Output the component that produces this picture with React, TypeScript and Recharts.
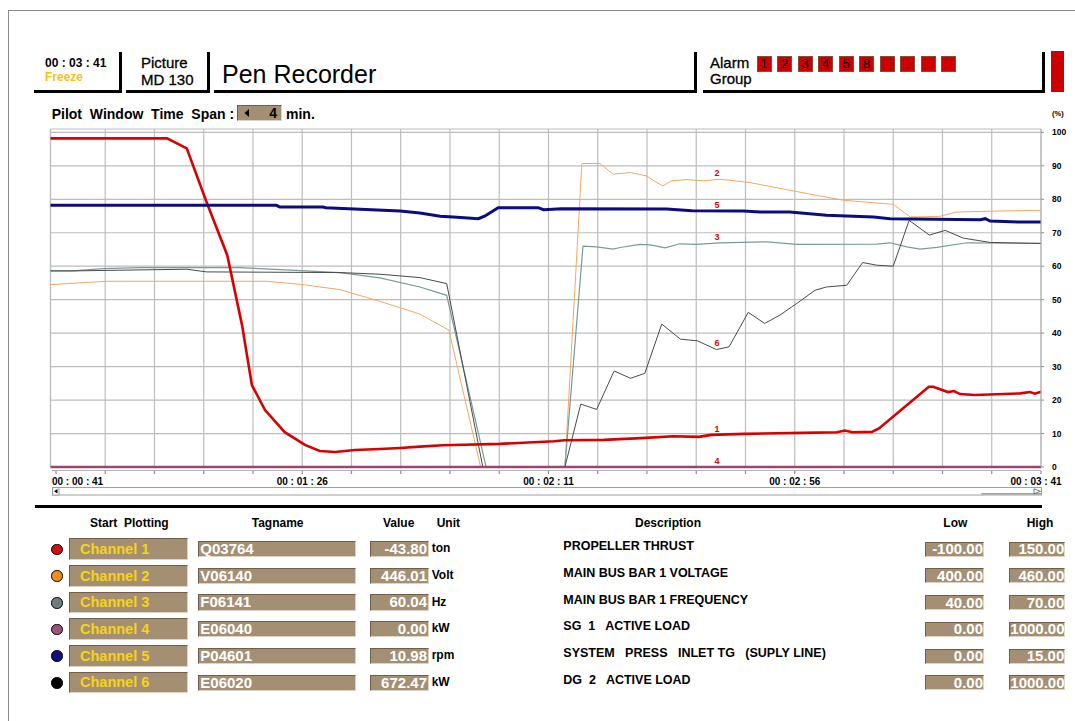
import React from 'react';
import {
  LineChart,
  Line,
  XAxis,
  YAxis,
  CartesianGrid,
  ReferenceLine,
  ReferenceDot,
} from 'recharts';

const FONT = '"Liberation Sans", Arial, Helvetica, sans-serif';

// time axis in clock seconds (00:00:41 .. 00:03:41), one division = 9 s
const TIME_TICKS = [41, 50, 59, 68, 77, 86, 95, 104, 113, 122, 131, 140, 149, 158, 167, 176, 185, 194, 203, 212, 221];
const GRID_T = [40, 50, 59, 68, 77, 86, 95, 104, 113, 122, 131, 140, 149, 158, 167, 176, 185, 194, 203, 212, 221];
const PCT_TICKS = [0, 10, 20, 30, 40, 50, 60, 70, 80, 90, 100];

// pen traces, percent of range
const CH1_T = [40, 61.3, 64.9, 68.6, 72.3, 75.0, 76.8, 79.2, 82.8, 86.5, 89.2, 92.0, 95.6, 100.2, 103.9, 107.5, 111.7, 122.1, 132.0, 134.0, 141.1, 148.8, 153.8, 158.5, 160.7, 166.9, 177.5, 183.7, 185.2, 186.5, 190.1, 191.4, 200.5, 201.3, 204.0, 205.1, 206.2, 208.9, 217.2, 219.0, 219.9, 221];
const CH1_V = [98.2, 98.2, 95.2, 78.8, 63.3, 42.4, 24.5, 17.0, 10.4, 6.6, 4.8, 4.5, 5.1, 5.4, 5.7, 6.1, 6.5, 6.9, 7.7, 8.0, 8.1, 8.7, 9.2, 9.0, 9.6, 9.9, 10.2, 10.4, 10.9, 10.4, 10.5, 11.5, 24.0, 24.0, 22.4, 22.7, 21.8, 21.5, 22.0, 22.4, 21.9, 22.5];

const CH2_T = [40, 50.3, 79.6, 86.1, 92.9, 100.2, 107.5, 112.8, 118.6, 134.0, 137.1, 140.4, 142.8, 145.9, 148.9, 150.8, 151.9, 153.5, 156.3, 159.3, 162.3, 167.8, 175.7, 184.9, 194.0, 197.1, 202.5, 205.6, 213.5, 221];
const CH2_V = [54.5, 55.5, 55.5, 54.5, 53.0, 49.5, 45.7, 40.9, 0, 0, 90.7, 90.7, 87.5, 88.0, 87.0, 85.0, 84.0, 85.5, 85.9, 85.5, 86.0, 85.0, 82.5, 79.7, 78.5, 74.7, 74.9, 76.2, 76.5, 76.7];

const CH3_T = [40, 44.1, 49.6, 56.4, 74.6, 83.8, 92.9, 100.2, 107.5, 112.4, 119.6, 134.0, 137.3, 139.8, 142.8, 144.1, 147.7, 149.6, 152.3, 155.0, 158.1, 162.3, 170.9, 176.4, 191.0, 193.4, 196.5, 198.9, 202.0, 207.4, 221];
const CH3_V = [58.6, 58.6, 59.3, 59.6, 59.6, 58.8, 58.1, 56.5, 53.8, 51.3, 0, 0, 66.0, 65.8, 65.1, 65.6, 66.5, 66.4, 65.5, 66.7, 66.5, 67.0, 67.3, 66.5, 66.6, 67.0, 65.8, 65.1, 65.6, 67.0, 66.8];

const CH4_T = [40, 221];
const CH4_V = [0, 0];

const CH5_T = [40, 81.3, 81.9, 89.8, 90.3, 103.9, 107.5, 111.2, 113.6, 118.2, 119.4, 121.8, 129.1, 130.1, 133.4, 152.6, 157.2, 166.6, 169.7, 175.1, 181.8, 190.4, 193.4, 209.9, 210.8, 211.7, 217.2, 221];
const CH5_V = [78.2, 78.2, 77.7, 77.7, 77.5, 76.5, 75.9, 74.9, 74.7, 74.2, 75.0, 77.5, 77.5, 76.9, 77.2, 77.1, 76.6, 76.5, 76.2, 76.2, 75.2, 74.7, 74.2, 73.9, 74.2, 73.5, 73.2, 73.2];

const CH6_T = [40, 44.1, 64.9, 68.5, 92.9, 100.2, 107.5, 112.4, 119.0, 134.0, 136.9, 139.8, 143.0, 146.0, 148.6, 151.7, 155.1, 158.2, 161.7, 164.0, 167.5, 170.5, 173.3, 176.4, 179.7, 181.8, 185.5, 188.4, 191.0, 194.0, 196.9, 200.6, 203.5, 206.8, 211.7, 221];
const CH6_V = [58.6, 58.6, 59.1, 58.3, 58.1, 57.6, 56.6, 54.8, 0, 0, 18.8, 17.2, 28.7, 26.5, 28.0, 42.7, 38.2, 37.7, 35.1, 35.9, 46.2, 42.9, 45.4, 48.9, 52.8, 53.8, 54.3, 61.1, 60.3, 60.0, 73.7, 69.3, 70.7, 68.4, 67.1, 66.8];

const PEN_LABEL_T = 161.8;

// channel table
const CHANNELS = ['Channel 1', 'Channel 2', 'Channel 3', 'Channel 4', 'Channel 5', 'Channel 6'];
const DOT_COLORS = ['#d01010', '#f08c20', '#6e7e7e', '#a05080', '#101080', '#000000'];
const TAGNAMES = ['Q03764', 'V06140', 'F06141', 'E06040', 'P04601', 'E06020'];
const VALUES = ['-43.80', '446.01', '60.04', '0.00', '10.98', '672.47'];
const UNITS = ['ton', 'Volt', 'Hz', 'kW', 'rpm', 'kW'];
const DESCRIPTIONS = [
  'PROPELLER THRUST',
  'MAIN BUS BAR 1 VOLTAGE',
  'MAIN BUS BAR 1 FREQUENCY',
  'SG  1   ACTIVE LOAD',
  'SYSTEM   PRESS   INLET TG   (SUPLY LINE)',
  'DG  2   ACTIVE LOAD',
];
const LOWS = ['-100.00', '400.00', '40.00', '0.00', '0.00', '0.00'];
const HIGHS = ['150.00', '460.00', '70.00', '1000.00', '15.00', '1000.00'];

const ALARMS = ['1', '2', '3', '4', '5', '8', '', '', '', ''];

const TAN = '#a58f73';

const toData = (ts: number[], vs: number[]) => ts.map((t, i) => ({ t, v: vs[i] }));

const valueAt = (ts: number[], vs: number[], t: number) => {
  for (let i = 1; i < ts.length; i++) {
    if (t <= ts[i]) {
      const f = (t - ts[i - 1]) / (ts[i] - ts[i - 1]);
      return vs[i - 1] + f * (vs[i] - vs[i - 1]);
    }
  }
  return vs[vs.length - 1];
};

const pad = (n: number) => String(n).padStart(2, '0');
const fmtTime = (t: number) => `00 : ${pad(Math.floor(t / 60))} : ${pad(t % 60)}`;

const TimeTick = (props: any) => {
  const { x, y, payload } = props;
  const t = payload.value;
  const major = (t - 41) % 45 === 0;
  let anchor = 'middle';
  let dx = 0;
  if (t === 41) {
    anchor = 'start';
    dx = -4;
  }
  if (t === 221) dx = -5;
  return (
    <g>
      <line x1={x} x2={x} y1={y + 4} y2={y + 7} stroke="#8c8c8c" strokeWidth={1.2} />
      {major && (
        <text
          x={x + dx}
          y={y + 14}
          textAnchor={anchor as any}
          dominantBaseline="central"
          fontSize={10}
          fontWeight="bold"
          fill="#000"
          fontFamily={FONT}
        >
          {fmtTime(t)}
        </text>
      )}
    </g>
  );
};

const PENS = [
  { id: '2', t: CH2_T, v: CH2_V, color: '#f5a860', width: 1 },
  { id: '3', t: CH3_T, v: CH3_V, color: '#7a9a9a', width: 1.2 },
  { id: '6', t: CH6_T, v: CH6_V, color: '#4a4a4a', width: 1 },
  { id: '1', t: CH1_T, v: CH1_V, color: '#d80000', width: 2.6 },
  { id: '5', t: CH5_T, v: CH5_V, color: '#0c0c80', width: 3 },
  { id: '4', t: CH4_T, v: CH4_V, color: '#9c4478', width: 2.6 },
];

const abs = (left: number, top: number, width?: number, height?: number): React.CSSProperties => ({
  position: 'absolute',
  left,
  top,
  width,
  height,
  boxSizing: 'border-box',
});

const txt = (size: number, bold = false, color = '#000'): React.CSSProperties => ({
  fontSize: size,
  lineHeight: `${size + 2}px`,
  fontWeight: bold ? 'bold' : 'normal',
  color,
  whiteSpace: 'pre',
});

const tanBox: React.CSSProperties = {
  background: TAN,
  borderTop: '1px solid #6e5e4a',
  borderLeft: '1px solid #6e5e4a',
  borderBottom: '1px solid #ddd4c8',
  borderRight: '1px solid #ddd4c8',
};

const headerBox = (left: number, width: number): React.CSSProperties => ({
  ...abs(left, 52, width, 40.5),
  borderRight: '3px solid #000',
  borderBottom: '3px solid #000',
});

export default function App() {
  return (
    <div style={{ ...abs(0, 0, 1075, 721), background: '#fff', fontFamily: FONT, overflow: 'hidden' }}>
      {/* screen frame */}
      <div style={{ ...abs(8, 10, 1067, 711), borderTop: '1px solid #8a8a8a', borderLeft: '1px solid #8a8a8a' }} />

      {/* header */}
      <div style={headerBox(34, 87.5)} />
      <div style={headerBox(126, 84)} />
      <div style={headerBox(214, 483)} />
      <div style={headerBox(702.7, 342)} />
      <div style={{ ...abs(45, 55.7), ...txt(12, true) }}>00 : 03 : 41</div>
      <div style={{ ...abs(45, 69.7), ...txt(12, true, '#f2c21a') }}>Freeze</div>
      <div style={{ ...abs(141, 54), ...txt(15), WebkitTextStroke: '0.3px #000' }}>Picture</div>
      <div style={{ ...abs(141, 71), ...txt(15), WebkitTextStroke: '0.3px #000' }}>MD 130</div>
      <div style={{ ...abs(222, 60.5), ...txt(25) }}>Pen Recorder</div>
      <div style={{ ...abs(710, 53.8), ...txt(15), WebkitTextStroke: '0.3px #000' }}>Alarm</div>
      <div style={{ ...abs(710, 69.8), ...txt(15), WebkitTextStroke: '0.3px #000' }}>Group</div>
      {ALARMS.map((a, i) => (
        <div
          key={i}
          style={{
            ...abs(756.7 + i * 20.5, 56, 15, 15.7),
            background: '#cc0000',
            border: '1px solid #8a4a3a',
            ...txt(13),
            lineHeight: '14px',
            textAlign: 'center',
          }}
        >
          {a}
        </div>
      ))}
      <div style={{ ...abs(1050.7, 51, 13.3, 41.3), background: '#cc0000' }} />

      {/* time span line */}
      <div style={{ ...abs(51.7, 106), ...txt(14, true) }}>{'Pilot  Window  Time  Span :'}</div>
      <div style={{ ...abs(236.7, 105, 45, 15.5), ...tanBox }}>
        <svg width={45} height={14} style={{ position: 'absolute', left: 0, top: 0 }}>
          <path d="M11,3 L6.5,7 L11,11 Z" fill="#000" />
        </svg>
        <div style={{ ...abs(31.5, -1), ...txt(14, true) }}>4</div>
      </div>
      <div style={{ ...abs(286, 106), ...txt(14, true) }}>min.</div>
      <div style={{ ...abs(1052, 108.5), ...txt(7.5, true) }}>(%)</div>

      {/* axis decorations below plot */}
      <svg width={1075} height={721} style={{ position: 'absolute', left: 0, top: 0 }}>
        <line x1={52} x2={1041} y1={470.5} y2={470.5} stroke="#b4b4b4" strokeWidth={1} />
        <rect x={52.5} y={487.5} width={989} height={7.5} fill="#fff" stroke="#a0a0a0" strokeWidth={1} />
        <rect x={52.5} y={487.5} width={6.5} height={7.5} fill="#fff" stroke="#a0a0a0" strokeWidth={1} />
        <path d="M57.5,489 L54,491.25 L57.5,493.5 Z" fill="#000" />
        <line x1={981.5} x2={1041} y1={493.8} y2={493.8} stroke="#777" strokeWidth={1} />
        <path d="M1034,488.8 L1040.5,491.3 L1034,493.8 Z" fill="#fff" stroke="#555" strokeWidth={0.8} />
      </svg>

      {/* pen recorder chart */}
      <div style={abs(0, 0, 1075, 500)}>
        <LineChart width={1075} height={500} margin={{ top: 129, right: 0, bottom: 3, left: 50.5 }}>
          <CartesianGrid stroke="#bdbdbd" strokeWidth={1.2} verticalValues={GRID_T} horizontalValues={PCT_TICKS} />
          <ReferenceLine y={101} stroke="#bdbdbd" strokeWidth={1.2} />
          <ReferenceLine x={40} stroke="#bdbdbd" strokeWidth={1.2} />
          <XAxis
            type="number"
            dataKey="t"
            domain={[40, 221]}
            ticks={TIME_TICKS}
            interval={0}
            height={30}
            axisLine={false}
            tickLine={false}
            tickSize={0}
            tickMargin={0}
            tick={<TimeTick />}
          />
          <YAxis
            orientation="right"
            type="number"
            domain={[0, 101]}
            ticks={PCT_TICKS}
            interval={0}
            width={34}
            tickSize={3}
            tickMargin={8}
            axisLine={{ stroke: '#b5b5b5' }}
            tickLine={{ stroke: '#8c8c8c' }}
            tick={{ fontSize: 8.5, fontWeight: 'bold', fill: '#000', fontFamily: FONT }}
          />
          {PENS.map((p) => (
            <Line
              key={p.id}
              data={toData(p.t, p.v)}
              dataKey="v"
              type="linear"
              stroke={p.color}
              strokeWidth={p.width}
              dot={false}
              activeDot={false}
              isAnimationActive={false}
            />
          ))}
          {PENS.map((p) => (
            <ReferenceDot
              key={'l' + p.id}
              x={PEN_LABEL_T}
              y={valueAt(p.t, p.v, PEN_LABEL_T)}
              r={0}
              stroke="none"
              fill="none"
              label={{ value: p.id, position: 'top', offset: 3, fill: '#e00000', fontSize: 9, fontWeight: 'bold', fontFamily: FONT }}
            />
          ))}
        </LineChart>
      </div>

      {/* separator */}
      <div style={{ ...abs(35, 505, 1007, 3), background: '#000' }} />

      {/* table header */}
      <div style={{ ...abs(90, 516.3), ...txt(12, true) }}>{'Start  Plotting'}</div>
      <div style={{ ...abs(251.7, 516.3), ...txt(12, true) }}>Tagname</div>
      <div style={{ ...abs(383, 516.3), ...txt(12, true) }}>Value</div>
      <div style={{ ...abs(436.7, 516.3), ...txt(12, true) }}>Unit</div>
      <div style={{ ...abs(635, 516.3), ...txt(12, true) }}>Description</div>
      <div style={{ ...abs(943.3, 516.3), ...txt(12, true) }}>Low</div>
      <div style={{ ...abs(1026.7, 516.3), ...txt(12, true) }}>High</div>

      {CHANNELS.map((ch, i) => {
        const dy = i * 26.7;
        return (
          <React.Fragment key={ch}>
            <div
              style={{
                ...abs(51, 543.6 + dy, 11.5, 11.5),
                borderRadius: '50%',
                background: DOT_COLORS[i],
                border: '1.5px solid #000',
              }}
            />
            <div style={{ ...abs(69.3, 538.3 + dy, 119, 21.7), ...tanBox }}>
              <div style={{ ...abs(9.7, 1.5), ...txt(14.5, true, '#f7d417'), lineHeight: '17px' }}>{ch}</div>
            </div>
            <div style={{ ...abs(198.3, 541 + dy, 157.7, 16.3), ...tanBox }}>
              <div style={{ ...abs(1, -2), ...txt(15, true, '#fff') }}>{TAGNAMES[i]}</div>
            </div>
            <div style={{ ...abs(370, 541 + dy, 59, 16.3), ...tanBox }}>
              <div style={{ ...abs(0, -2, 56), ...txt(15, true, '#fff'), textAlign: 'right' }}>{VALUES[i]}</div>
            </div>
            <div style={{ ...abs(431.7, 541.3 + dy), ...txt(12, true) }}>{UNITS[i]}</div>
            <div style={{ ...abs(563.3, 539.3 + dy), ...txt(12.5, true), lineHeight: '15px' }}>{DESCRIPTIONS[i]}</div>
            <div style={{ ...abs(925, 541.7 + dy, 59, 15), ...tanBox }}>
              <div style={{ ...abs(0, -2.5, 57), ...txt(15, true, '#fff'), textAlign: 'right' }}>{LOWS[i]}</div>
            </div>
            <div style={{ ...abs(1009.3, 541.7 + dy, 55.7, 15), ...tanBox }}>
              <div style={{ ...abs(0, -2.5, 54), ...txt(15, true, '#fff'), textAlign: 'right' }}>{HIGHS[i]}</div>
            </div>
          </React.Fragment>
        );
      })}
    </div>
  );
}
